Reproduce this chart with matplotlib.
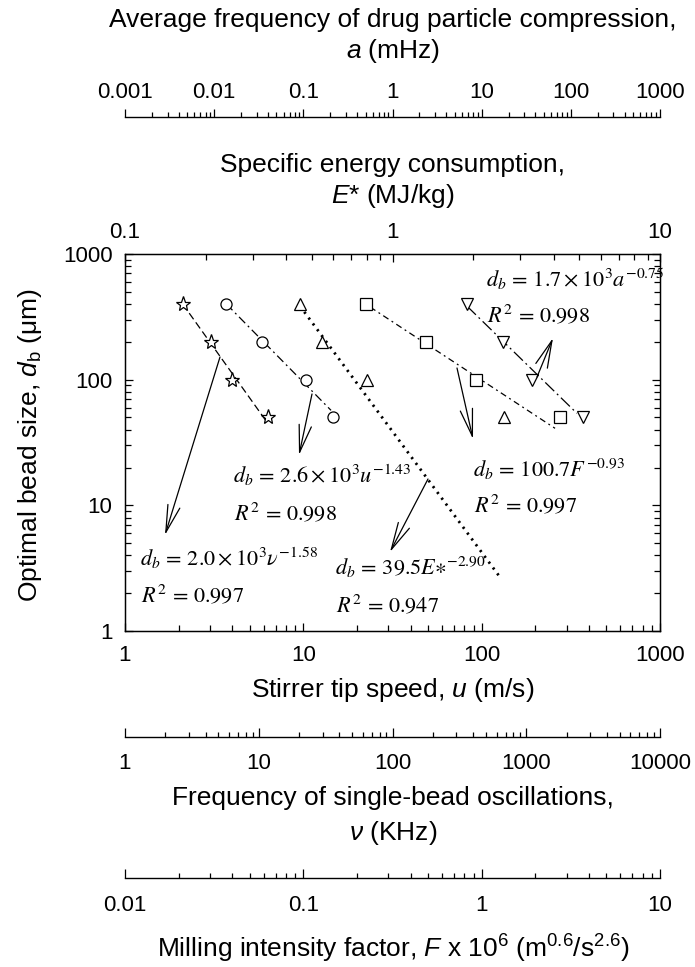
import matplotlib
matplotlib.use("Agg")
import matplotlib.pyplot as plt
from matplotlib.ticker import FixedLocator, LogLocator, NullFormatter

plt.rcParams["font.family"] = ["Liberation Sans", "DejaVu Sans"]
plt.rcParams["mathtext.fontset"] = "custom"
plt.rcParams["mathtext.rm"] = "Liberation Sans"
plt.rcParams["mathtext.it"] = "Liberation Sans:italic"
plt.rcParams["mathtext.bf"] = "Liberation Sans:bold"

# optimal bead size d_b (um) for each group of points
d_b = [400, 200, 100, 50]

# x values of each group, each on its own axis
nu = [2.7, 4.4, 6.3, 11.7]        # single-bead oscillation frequency, kHz (stars)
u = [3.7, 5.9, 10.4, 14.7]        # stirrer tip speed, m/s (circles)
E = [0.45, 0.545, 0.80, 2.6]      # specific energy, MJ/kg (triangles)
F = [0.225, 0.49, 0.93, 2.75]     # milling intensity factor x 1e6 (squares)
a = [6.8, 17.3, 36.7, 137]        # drug particle compression freq, mHz (inverted triangles)

# fitted power-law lines, end points as drawn
nu_fit, nu_fit_d = [2.7, 11.5], [400, 46]
u_fit, u_fit_d = [3.7, 14.3], [400, 57]
E_fit, E_fit_d = [0.451, 2.52], [385, 2.69]
F_fit, F_fit_d = [0.237, 2.58], [378, 41]
a_fit, a_fit_d = [6.84, 117], [385, 54]

# axis ranges and tick labels
u_ticks = [1, 10, 100, 1000]
d_ticks = [1, 10, 100, 1000]
E_ticks = [0.1, 1, 10]
a_ticks = [0.001, 0.01, 0.1, 1, 10, 100, 1000]
nu_ticks = [1, 10, 100, 1000, 10000]
F_ticks = [0.01, 0.1, 1, 10]

eqs = [
    (r"$d_b\,=\,1.7\times10^3a^{-0.75}$", r"$R^2\,=\,0.998$"),
    (r"$d_b\,=\,2.6\times10^3u^{-1.43}$", r"$R^2\,=\,0.998$"),
    (r"$d_b\,=\,2.0\times10^3\nu^{-1.58}$", r"$R^2\,=\,0.997$"),
    (r"$d_b\,=\,39.5E{\ast}^{-2.90}$", r"$R^2\,=\,0.947$"),
    (r"$d_b\,=\,100.7F^{-0.93}$", r"$R^2\,=\,0.997$"),
]

W, H = 695, 967
fig = plt.figure(figsize=(W / 100, H / 100), dpi=100)


def box(x0, y0, x1, y1):
    return [x0 / W, 1 - y1 / H, (x1 - x0) / W, (y1 - y0) / H]


def fx(x):
    return x / W


def fy(y):
    return 1 - y / H


def log_ticks(axis, ticks):
    axis.set_major_locator(FixedLocator(ticks))
    axis.set_major_formatter(plt.FixedFormatter(["%g" % t for t in ticks]))
    axis.set_minor_locator(LogLocator(base=10, subs=range(2, 10), numticks=20))
    axis.set_minor_formatter(NullFormatter())


TICK_FS = 16
LABEL_FS = 19
EQ_FS = 16

# main axes: stirrer tip speed vs bead size
ax = fig.add_axes(box(125, 254, 660, 631))
ax.set_xscale("log")
ax.set_yscale("log")
ax.set_xlim(1, 1000)
ax.set_ylim(1, 1000)
log_ticks(ax.xaxis, u_ticks)
log_ticks(ax.yaxis, d_ticks)
ax.tick_params(which="both", direction="in", top=False, right=True,
               labelsize=TICK_FS, width=0.9)
ax.tick_params(which="major", length=6)
ax.tick_params(which="minor", length=4)
ax.tick_params(axis="x", pad=10)
ax.tick_params(axis="y", pad=9)
for s in ax.spines.values():
    s.set_linewidth(1.0)

# E* axis along the top spine
axE = ax.twiny()
axE.set_xscale("log")
axE.set_xlim(0.1, 10)
log_ticks(axE.xaxis, E_ticks)
axE.tick_params(which="both", direction="in", labelsize=TICK_FS, width=0.9, pad=8)
axE.tick_params(which="major", length=6)
axE.tick_params(which="minor", length=4)


def overlay(lo, hi):
    t = ax.twiny()
    t.set_xscale("log")
    t.set_xlim(lo, hi)
    t.axis("off")
    return t


axu = overlay(1, 1000)
axnu = overlay(1, 10000)
axF = overlay(0.01, 10)
axa = overlay(0.001, 1000)

mk = dict(color="k", mfc="white", mec="k", mew=0.9, ls="none", zorder=4)
axnu.plot(nu_fit, nu_fit_d, color="k", lw=0.9, ls=(0, (6, 3)))
axnu.plot(nu, d_b, marker="*", ms=11, **mk)
axu.plot(u_fit, u_fit_d, color="k", lw=0.9, ls=(0, (7, 3, 1.5, 3)))
axu.plot(u, d_b, marker="o", ms=8, **mk)
axE.plot(E_fit, E_fit_d, color="k", lw=2.0, ls=(0, (0.8, 1.8)))
axE.plot(E, d_b, marker="^", ms=8, **mk)
axF.plot(F_fit, F_fit_d, color="k", lw=0.9, ls=(0, (5, 3, 1.5, 3)))
axF.plot(F, d_b, marker="s", ms=8, **mk)
axa.plot(a_fit, a_fit_d, color="k", lw=0.9, ls=(0, (10, 3, 1.5, 3)))
axa.plot(a, d_b, marker="v", ms=8, **mk)

# equations (left x, baseline y of equation, baseline y of R^2) in pixels
eq_pos = [(486, 287, 322), (233, 483, 520), (140, 566, 602),
          (335, 575, 612), (473, 477, 512)]
for (eq, r2), (x, y1, y2) in zip(eqs, eq_pos):
    fig.text(fx(x), fy(y1), eq, fontsize=EQ_FS, math_fontfamily="stix",
             ha="left", va="baseline")
    fig.text(fx(x + 1), fy(y2), r2, fontsize=EQ_FS, math_fontfamily="stix",
             ha="left", va="baseline")

# arrows from fit lines to equations (tail, head) in pixels
arrows = [((220, 357), (165, 535)), ((312, 394), (299, 455)),
          ((428, 479), (390, 552)), ((457, 368), (473, 439)),
          ((537, 377), (553, 338))]
for (tx, ty), (hx, hy) in arrows:
    fig.add_artist(matplotlib.patches.FancyArrowPatch(
        (fx(tx), fy(ty)), (fx(hx), fy(hy)), transform=fig.transFigure,
        arrowstyle="->,head_length=1.4,head_width=0.32", mutation_scale=14,
        lw=0.9, color="k", shrinkA=0, shrinkB=0))

# detached axes: a on top, nu and F at the bottom
ax_a = fig.add_axes(box(125, 117, 660, 137))
ax_a.set_xscale("log")
ax_a.set_xlim(0.001, 1000)
log_ticks(ax_a.xaxis, a_ticks)
ax_a.xaxis.set_ticks_position("top")
ax_a.tick_params(which="both", direction="out", labelsize=TICK_FS, width=0.9,
                 pad=4, labeltop=True, labelbottom=False)
ax_a.tick_params(which="major", length=6)
ax_a.tick_params(which="minor", length=3.5)

ax_nu = fig.add_axes(box(125, 717, 660, 737))
ax_nu.set_xscale("log")
ax_nu.set_xlim(1, 10000)
log_ticks(ax_nu.xaxis, nu_ticks)

ax_F = fig.add_axes(box(125, 858, 660, 878))
ax_F.set_xscale("log")
ax_F.set_xlim(0.01, 10)
log_ticks(ax_F.xaxis, F_ticks)

for sub, pad in ((ax_nu, 11.5), (ax_F, 12)):
    sub.tick_params(which="both", direction="in", labelsize=TICK_FS,
                    width=0.9, pad=pad)
    sub.tick_params(which="major", length=6.5)
    sub.tick_params(which="minor", length=3.5)

for sub, keep in ((ax_a, "top"), (ax_nu, "bottom"), (ax_F, "bottom")):
    sub.patch.set_visible(False)
    sub.set_yticks([])
    for name, s in sub.spines.items():
        s.set_visible(name == keep)
        s.set_linewidth(1.0)

# axis titles
cx = 393
titles = [
    ("Average frequency of drug particle compression,", 27),
    (r"$a$ (mHz)", 58),
    ("Specific energy consumption,", 172),
    (r"$E$* (MJ/kg)", 203),
    (r"Stirrer tip speed, $u$ (m/s)", 697),
    ("Frequency of single-bead oscillations,", 805),
    (r"$\nu$ (KHz)", 840),
    (r"Milling intensity factor, $F$ x 10$^6$ (m$^{0.6}$/s$^{2.6}$)", 958),
]
for txt, y in titles:
    fig.text(fx(cx), fy(y), txt, fontsize=LABEL_FS, ha="center", va="baseline")

fig.text(fx(30), fy(445), r"Optimal bead size, $d_\mathrm{b}$ (μm)",
         fontsize=LABEL_FS, rotation=90, ha="center", va="center")

fig.savefig("out.png", dpi=100)
